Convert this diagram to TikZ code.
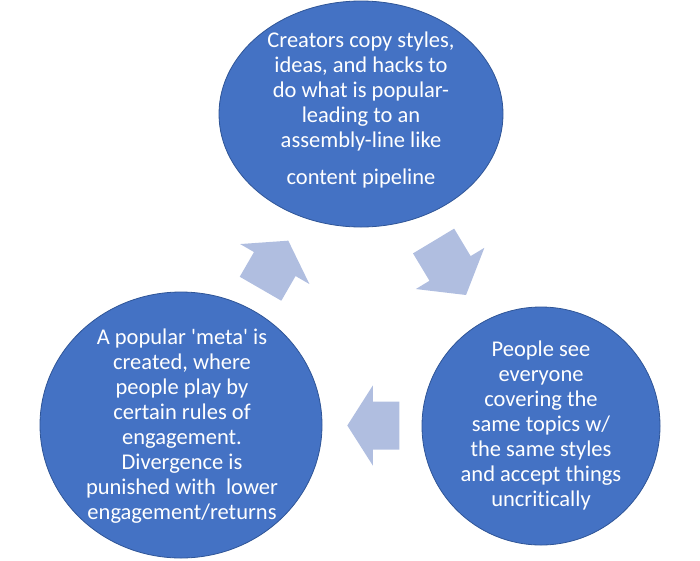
\documentclass[tikz,border=0pt]{standalone}
\usepackage{fontspec}
\setmainfont{Carlito}[Ligatures=NoCommon]
\usetikzlibrary{shapes.geometric}
\definecolor{bubblefill}{HTML}{4472C4}
\definecolor{bubbleline}{HTML}{2F5597}
\definecolor{arrowfill}{RGB}{176,190,224}
\tikzset{
  bubble/.style={ellipse, fill=bubblefill, draw=bubbleline, line width=0.8pt, inner sep=0pt},
  bubbletext/.style={text=white, align=center, inner sep=0pt,
    font=\fontsize{22.5pt}{25pt}\selectfont},
  blockarrow/.style={fill=arrowfill, draw=none}
}
\newcommand{\myblockarrow}[5]{%
  % #1 centre x, #2 centre y, #3 angle, #4 length, #5 head length
  \fill[blockarrow, shift={(#1,#2)}, rotate=#3]
    ({-#4/2},-24) -- ({#4/2-#5},-24) -- ({#4/2-#5},-40) -- ({#4/2},0)
    -- ({#4/2-#5},40) -- ({#4/2-#5},24) -- ({-#4/2},24) -- cycle;}
\begin{document}
\begin{tikzpicture}[x=1pt,y=-1pt]
\useasboundingbox (0,0) rectangle (700,560);
% bubbles
\node[bubble, minimum width=284pt, minimum height=226pt] (top) at (361,114) {};
\node[bubble, minimum width=282pt, minimum height=266pt] (left) at (181,425) {};
\node[bubble, minimum width=238pt, minimum height=238pt] (right) at (541,426) {};
% texts
\node[bubbletext] (toptext) at (361,110) {Creators copy styles,\\ideas, and hacks to\\do what is popular-\\leading to an\\assembly-line like\\[12pt]content pipeline};
\node[bubbletext] (lefttext) at (182,426) {A popular \textquotesingle meta\textquotesingle{} is\\created, where\\people play by\\certain rules of\\engagement.\\Divergence is\\punished with\ \ lower\\engagement/returns};
\node[bubbletext] (righttext) at (541,425) {People see\\everyone\\covering the\\same topics w/\\the same styles\\and accept things\\uncritically};
% block arrows
\myblockarrow{274.4}{264.7}{60}{55.5}{27}
\myblockarrow{449.8}{268}{-59}{63}{31}
\myblockarrow{373.3}{425.5}{180}{52}{25.5}
\end{tikzpicture}
\end{document}
